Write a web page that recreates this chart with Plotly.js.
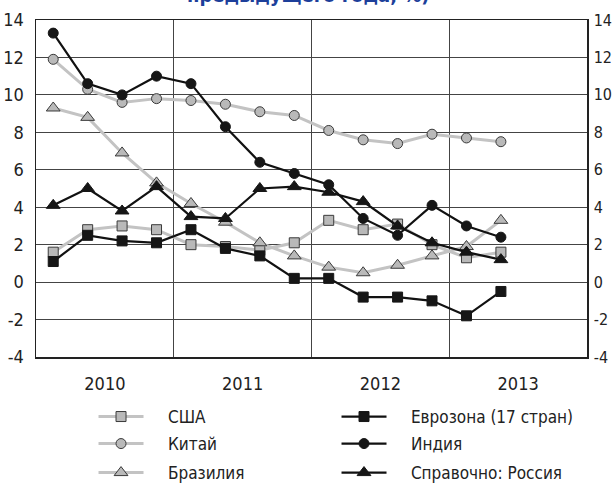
<!DOCTYPE html>
<html>
<head>
<meta charset="utf-8">
<script src="https://cdn.plot.ly/plotly-3.0.1.min.js"></script>
<style>html,body{margin:0;padding:0;background:#fff;}#chart{width:614px;height:486px;}</style>
</head>
<body>
<div id="chart"></div>
<script>
// Quarters 2010Q1 .. 2013Q2
const years = [2010,2010,2010,2010,2011,2011,2011,2011,2012,2012,2012,2012,2013,2013];
const quarters = [1,2,3,4,1,2,3,4,1,2,3,4,1,2];
const yearLabels = ["2010","2011","2012","2013"];
const yTickVals = [-4,-2,0,2,4,6,8,10,12,14];
const yTickText = ["-4","-2","0","2","4","6","8","10","12","14"];

const usa      = [1.6, 2.8, 3.0, 2.8, 2.0, 1.9, 1.7, 2.1, 3.3, 2.8, 3.1, 2.0, 1.3, 1.6];
const china    = [11.9, 10.3, 9.6, 9.8, 9.7, 9.5, 9.1, 8.9, 8.1, 7.6, 7.4, 7.9, 7.7, 7.5];
const brazil   = [9.3, 8.8, 6.9, 5.3, 4.2, 3.2, 2.1, 1.4, 0.8, 0.5, 0.9, 1.4, 1.9, 3.3];
const eurozone = [1.1, 2.5, 2.2, 2.1, 2.8, 1.8, 1.4, 0.2, 0.2, -0.8, -0.8, -1.0, -1.8, -0.5];
const india    = [13.3, 10.6, 10.0, 11.0, 10.6, 8.3, 6.4, 5.8, 5.2, 3.4, 2.5, 4.1, 3.0, 2.4];
const russia   = [4.1, 5.0, 3.8, 5.1, 3.5, 3.4, 5.0, 5.1, 4.8, 4.3, 3.0, 2.1, 1.6, 1.2];

const names = ["США","Китай","Бразилия","Еврозона (17 стран)","Индия","Справочно: Россия"];
const titleText = "предыдущего года, %)";

const x = years.map((y,i)=> y + (quarters[i]-0.5)/4);
const FONT = '"DejaVu Sans Condensed","Liberation Sans Narrow",sans-serif';
const PAD = '\u00a0\u00a0\u00a0\u00a0';

function grayTrace(vals, name, symbol, leg){
  return {x:x, y:vals, name:PAD+name, type:'scatter', mode:'lines+markers', legend:leg,
    line:{color:'#c3c3c3', width:3},
    marker:{symbol:symbol, size:symbol==='triangle-up'?12:10, color:'#b9b9b9', line:{color:'#3a3a3a', width:1}}};
}
function blackTrace(vals, name, symbol, leg){
  return {x:x, y:vals, name:PAD+name, type:'scatter', mode:'lines+markers', legend:leg,
    line:{color:'#111', width:2.2},
    marker:{symbol:symbol, size:symbol==='triangle-up'?12:10, color:'#161616', line:{color:'#161616', width:1}}};
}

const data = [
  grayTrace(usa, names[0], 'square', 'legend'),
  grayTrace(china, names[1], 'circle', 'legend2'),
  grayTrace(brazil, names[2], 'triangle-up', 'legend3'),
  blackTrace(eurozone, names[3], 'square', 'legend4'),
  blackTrace(india, names[4], 'circle', 'legend5'),
  blackTrace(russia, names[5], 'triangle-up', 'legend6'),
  {x:[2010.5], y:[null], yaxis:'y2', showlegend:false, hoverinfo:'skip', type:'scatter'}
];

const legFont = {family:FONT, size:17, color:'#222'};
function leg(xp, yp){
  return {x:xp, xanchor:'left', y:yp, yanchor:'middle', font:legFont, itemwidth:45,
    bgcolor:'rgba(0,0,0,0)', borderwidth:0};
}
const rowY = [-0.1780, -0.2582, -0.3443];
const colX = [0.1044, 0.5454];

const layout = {
  width:614, height:486,
  margin:{l:36, r:27, t:20, b:129, autoexpand:false},
  paper_bgcolor:'#fff', plot_bgcolor:'#fff',
  font:{family:FONT, size:18, color:'#222'},
  showlegend:true,
  xaxis:{range:[2010,2014], tickvals:[2010.5,2011.5,2012.5,2013.5], ticktext:yearLabels,
    showgrid:false, zeroline:false, showline:true, linecolor:'#222', linewidth:1.5, mirror:true,
    ticks:'', ticklabelstandoff:10,
    minor:{tickvals:[2011,2012,2013], showgrid:true, gridcolor:'#444', gridwidth:1}},
  yaxis:{range:[-4,14], tickvals:yTickVals, ticktext:yTickText, showgrid:true, gridcolor:'#444', gridwidth:1,
    zeroline:false, showline:true, linecolor:'#222', linewidth:1.5, ticks:'', ticklabelstandoff:7},
  yaxis2:{range:[-4,14], tickvals:yTickVals, ticktext:yTickText, overlaying:'y', side:'right', showgrid:false,
    zeroline:false, showline:true, linecolor:'#222', linewidth:1.5, ticks:'', ticklabelstandoff:2,
    tickfont:{family:FONT, size:16, color:'#222'}},
  legend:leg(colX[0], rowY[0]),
  legend2:leg(colX[0], rowY[1]),
  legend3:leg(colX[0], rowY[2]),
  legend4:leg(colX[1], rowY[0]),
  legend5:leg(colX[1], rowY[1]),
  legend6:leg(colX[1], rowY[2]),
  annotations:[{text:'<b>'+titleText+'</b>', xref:'paper', yref:'paper', x:0.495, y:1.075,
    xanchor:'center', yanchor:'middle', showarrow:false, font:{family:FONT, size:20, color:'#1d3f9a'}}]
};

Plotly.newPlot('chart', data, layout, {displayModeBar:false, staticPlot:true});
</script>
</body>
</html>
